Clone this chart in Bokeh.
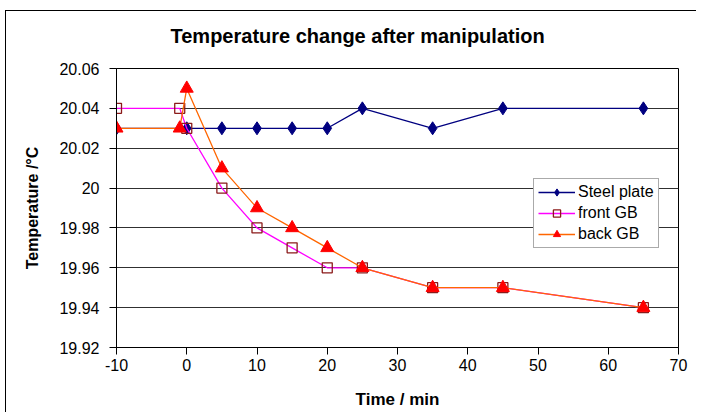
from bokeh.plotting import figure
from bokeh.models import Range1d, FixedTicker, CustomJSTickFormatter, Legend, LegendItem, Title
from bokeh.embed import file_html
from bokeh.resources import INLINE

# ---- data ----
steel_x = [-10, 0, 5, 10, 15, 20, 25, 35, 45, 65]
steel_y = [20.03, 20.03, 20.03, 20.03, 20.03, 20.03, 20.04, 20.03, 20.04, 20.04]

front_x = [-10, -1, 0, 5, 10, 15, 20, 25, 35, 45, 65]
front_y = [20.04, 20.04, 20.03, 20.00, 19.98, 19.97, 19.96, 19.96, 19.95, 19.95, 19.94]

back_x = [-10, -1, 0, 5, 10, 15, 20, 25, 35, 45, 65]
back_y = [20.03, 20.03, 20.05, 20.01, 19.99, 19.98, 19.97, 19.96, 19.95, 19.95, 19.94]

x_ticks = [-10, 0, 10, 20, 30, 40, 50, 60, 70]
y_ticks = [19.92, 19.94, 19.96, 19.98, 20.00, 20.02, 20.04, 20.06]

FONT = "Liberation Sans"

p = figure(width=696, height=412, output_backend="svg", toolbar_location=None,
           x_range=Range1d(-10, 70), y_range=Range1d(19.92, 20.06),
           min_border_left=116, min_border_right=18, min_border_top=68, min_border_bottom=65)
p.title = Title(text="Temperature change after manipulation", align="left", offset=54,
                text_font=FONT, text_font_size="20px", text_font_style="bold",
                text_color="black", standoff=44)

p.background_fill_color = "white"
p.border_fill_color = "white"
p.border_fill_alpha = 0
p.outline_line_color = "black"
p.outline_line_width = 1

# outer chart-area border (left and top edges), drawn as the figure element's own background
p.styles = {
    "background": ("linear-gradient(#000, #000) 5px 10px / 1px 100% no-repeat, "
                   "linear-gradient(#000, #000) 5px 10px / 100% 1px no-repeat, #fff"),
}

p.xgrid.visible = False
p.ygrid.ticker = FixedTicker(ticks=y_ticks)
p.ygrid.grid_line_color = "#303030"
p.ygrid.grid_line_width = 1

for ax in (p.xaxis[0], p.yaxis[0]):
    ax.axis_line_color = "black"
    ax.major_tick_line_color = "black"
    ax.minor_tick_line_color = None
    ax.major_tick_in = 0
    ax.major_tick_out = 7
    ax.major_label_text_font = FONT
    ax.major_label_text_font_size = "16px"
    ax.major_label_text_color = "black"
    ax.axis_label_text_font = FONT
    ax.axis_label_text_font_style = "bold"
    ax.axis_label_text_color = "black"

p.xaxis.ticker = FixedTicker(ticks=x_ticks)
p.yaxis.ticker = FixedTicker(ticks=y_ticks)
p.xaxis.formatter = CustomJSTickFormatter(code="return String(Math.round(tick));")
p.yaxis.formatter = CustomJSTickFormatter(code="return String(parseFloat(tick.toFixed(2)));")
p.xaxis.axis_label = "Time / min"
p.yaxis.axis_label = "Temperature /°C"
p.xaxis.axis_label_text_font_size = "17px"
p.yaxis.axis_label_text_font_size = "16px"
p.xaxis.major_label_standoff = 4
p.yaxis.major_label_standoff = 10
p.xaxis.axis_label_standoff = 16
p.yaxis.axis_label_standoff = 15

# ---- series ----
l1 = p.line(steel_x, steel_y, line_color="#000080", line_width=1.3)
m1 = p.scatter(steel_x, steel_y, marker="diamond", size=13, fill_color="#000080", line_color="#000080")

l2 = p.line(front_x, front_y, line_color="#FF00FF", line_width=1.3)
m2 = p.scatter(front_x, front_y, marker="square", size=10, fill_color=None, line_color="#8B1A1A", line_width=1.3)

l3 = p.line(back_x, back_y, line_color="#FF6600", line_width=1.3)
m3 = p.scatter(back_x, back_y, marker="triangle", size=13, fill_color="#FF0000", line_color="#FF0000")

legend = Legend(items=[
    LegendItem(label="Steel plate", renderers=[l1, m1]),
    LegendItem(label="front GB", renderers=[l2, m2]),
    LegendItem(label="back GB", renderers=[l3, m3]),
], location=(417, 99))
legend.label_text_font = FONT
legend.label_text_font_size = "16px"
legend.label_text_color = "black"
legend.glyph_width = 37
legend.glyph_height = 18
legend.label_height = 18
legend.label_standoff = 3
legend.spacing = 3
legend.padding = 4
legend.margin = 0
legend.border_line_color = "#555555"
legend.border_line_width = 1
legend.background_fill_color = "white"
legend.background_fill_alpha = 1
p.add_layout(legend)

open("out.html", "w").write(file_html(p, INLINE))
